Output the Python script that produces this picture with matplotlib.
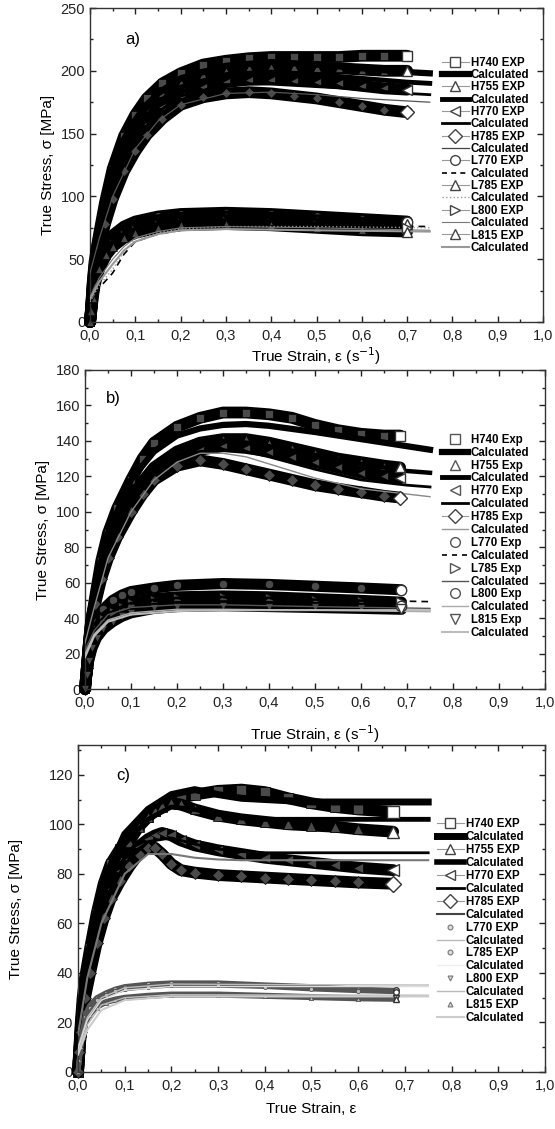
import matplotlib.pyplot as plt
from matplotlib.lines import Line2D
from matplotlib.ticker import MultipleLocator, FuncFormatter

plt.rcParams['font.family'] = ['Liberation Sans', 'DejaVu Sans']

# ---------------- panel a) ----------------
a_hx = [0, 0.003, 0.006, 0.01, 0.02, 0.033, 0.05, 0.075, 0.1, 0.125, 0.16, 0.2,
        0.25, 0.3, 0.35, 0.4, 0.45, 0.5, 0.55, 0.6, 0.65, 0.7]
a_h740 = [0, 15, 32, 48, 70, 95, 122, 148, 165, 178, 190, 198, 205, 208, 210, 211, 211, 211, 211, 212, 212, 212]
a_h755 = [0, 14, 30, 45, 66, 90, 115, 141, 157, 170, 182, 190, 197, 200, 202, 203, 203, 202, 202, 201, 200, 200]
a_h770 = [0, 13, 28, 42, 62, 84, 107, 131, 146, 158, 171, 180, 187, 191, 193, 193, 192, 191, 190, 188, 186, 185]
a_h785 = [0, 12, 26, 40, 58, 78, 98, 120, 136, 149, 162, 173, 179, 182, 183, 182, 180, 178, 175, 172, 169, 167]

a_lx = [0, 0.003, 0.006, 0.01, 0.02, 0.035, 0.05, 0.075, 0.1, 0.15, 0.2, 0.3, 0.4, 0.5, 0.6, 0.7]
a_l770 = [0, 12, 25, 36, 50, 62, 69, 76, 80, 84, 86, 87, 86, 84, 82, 80]
a_l785 = [0, 11, 23, 34, 48, 59, 66, 73, 77, 81, 83, 84, 83, 81, 79, 78]
a_l800 = [0, 10, 21, 31, 45, 56, 63, 70, 74, 78, 80, 81, 80, 78, 76, 75]
a_l815 = [0, 9, 19, 29, 42, 53, 60, 67, 71, 75, 77, 78, 77, 75, 73, 72]

a_cx = [0, 0.02, 0.05, 0.1, 0.15, 0.2, 0.3, 0.4, 0.5, 0.6, 0.7, 0.75]
a_c_h740 = [45, 78, 118, 160, 182, 194, 204, 207, 205, 202, 199, 198]
a_c_h755 = [43, 74, 112, 152, 175, 187, 197, 199, 197, 194, 191, 190]
a_c_h770 = [41, 70, 106, 145, 167, 180, 189, 190, 188, 185, 182, 181]
a_c_h785 = [39, 66, 100, 138, 160, 173, 182, 183, 181, 178, 176, 175]

a_clx = [0, 0.02, 0.05, 0.075, 0.1, 0.15, 0.2, 0.3, 0.5, 0.75]
a_c_l770 = [15, 27, 39, 54, 64, 70, 73, 76, 77, 76]
a_c_l785 = [16, 29, 42, 56, 66, 71, 74, 76, 76, 75]
a_c_l800 = [20, 35, 50, 60, 67, 72, 75, 76, 75, 73]
a_c_l815 = [18, 32, 46, 57, 64, 70, 73, 74, 73, 72]

# ---------------- panel b) ----------------
b_hx = [0, 0.004, 0.008, 0.012, 0.022, 0.035, 0.05, 0.07, 0.1, 0.125, 0.15, 0.2,
        0.25, 0.3, 0.35, 0.4, 0.45, 0.5, 0.55, 0.6, 0.65, 0.685]
b_h740 = [0, 12, 25, 36, 52, 72, 88, 102, 118, 130, 139, 148, 153, 156, 156, 155, 153, 149, 146, 144, 143, 143]
b_h755 = [0, 12, 24, 35, 50, 66, 79, 92, 107, 117, 125, 134, 139, 141, 141, 139, 136, 133, 130, 128, 126, 125]
b_h770 = [0, 12, 24, 34, 49, 64, 77, 89, 103, 113, 121, 130, 135, 137, 136, 134, 131, 128, 125, 122, 120, 119]
b_h785 = [0, 12, 24, 34, 48, 62, 74, 86, 100, 110, 118, 126, 129, 127, 124, 121, 118, 115, 113, 111, 109, 108]

b_lx = [0, 0.004, 0.008, 0.015, 0.025, 0.04, 0.06, 0.08, 0.1, 0.15, 0.2, 0.3, 0.4, 0.5, 0.6, 0.688]
b_l770 = [0, 10, 20, 30, 38, 45, 50, 53, 55, 57, 58.5, 59.5, 59, 58, 57, 56]
b_l785 = [0, 9, 18, 27, 34, 40, 44, 47, 49, 51, 52, 52.5, 52, 51, 50, 49]
b_l800 = [0, 9, 17, 25, 31, 37, 41, 44, 46, 48, 49, 49.5, 49, 48, 47.5, 47]
b_l815 = [0, 8, 16, 23, 29, 34, 38, 41, 43, 45.5, 46.5, 47, 46.5, 46, 45.5, 45]

b_cx = [0, 0.02, 0.05, 0.1, 0.15, 0.2, 0.25, 0.3, 0.35, 0.4, 0.5, 0.6, 0.7, 0.75]
b_c_h740 = [30, 55, 88, 118, 134, 143, 147, 149, 149.5, 148.5, 145, 141, 137, 135]
b_c_h755 = [28, 50, 80, 108, 126, 135, 139, 140, 139, 137, 132, 127, 123, 122]
b_c_h770 = [27, 48, 77, 104, 121, 130, 134, 135, 134, 131, 124, 118, 115, 114]
b_c_h785 = [26, 46, 74, 100, 118, 128, 133, 133, 131, 127, 119, 113, 110, 108.5]

b_clx = [0, 0.02, 0.05, 0.1, 0.2, 0.3, 0.5, 0.75]
b_c_l770 = [20, 32, 42, 48, 51, 51.5, 50.5, 49.3]
b_c_l785 = [22, 33, 42, 46, 47.5, 47.5, 46.5, 45.5]
b_c_l800 = [20, 31, 39, 43, 45, 45, 44.5, 43.6]
b_c_l815 = [18, 30, 38, 42, 44, 44.5, 44.5, 44.5]

# ---------------- panel c) ----------------
c_hx = [0, 0.003, 0.006, 0.01, 0.015, 0.026, 0.04, 0.055, 0.07, 0.09, 0.11, 0.13, 0.15,
        0.165, 0.18, 0.2, 0.22, 0.25, 0.3, 0.35, 0.4, 0.45, 0.5, 0.55, 0.6, 0.675]
c_h740 = [0, 10, 20, 30, 38, 50, 64, 76, 84, 90, 95, 99.5, 103, 105.5, 107, 109, 110.5, 112,
          113.5, 114, 113, 110.5, 108.5, 107, 106, 105]
c_h755 = [0, 9, 18, 27, 35, 46, 58, 70, 78, 86, 93, 99, 103, 105.5, 107.5, 108.5, 108, 106,
          103.5, 102, 101, 100, 99.5, 99, 98, 97]
c_h770 = [0, 8, 16, 24, 31, 42, 55, 66, 74, 81, 86, 91, 94, 95.5, 96.5, 95.5, 93.5, 91.5,
          89.5, 88, 86.5, 85.5, 84.5, 83.5, 82.5, 81.5]
c_h785 = [0, 8, 16, 23, 30, 40, 52, 62, 70, 77, 83, 88, 90.5, 90.5, 88, 84, 81.5, 80.5,
          79.5, 79, 78.5, 78, 77.5, 77, 76.5, 76]

c_lx = [0, 0.003, 0.006, 0.01, 0.015, 0.025, 0.04, 0.06, 0.08, 0.1, 0.15, 0.2, 0.3, 0.4, 0.5, 0.6, 0.68]
c_l770 = [0, 6, 12, 18, 23, 27, 30, 32, 33.5, 34.5, 35.5, 36, 36, 35.2, 34.5, 33.5, 33]
c_l785 = [0, 6, 12, 17, 22, 26, 29, 31, 32.5, 33.5, 34.5, 35, 35, 34.5, 33.5, 32.8, 32.4]
c_l800 = [0, 5, 10, 15, 20, 24, 27, 28.5, 29.5, 30.2, 31, 31.5, 31.5, 31, 30.5, 30, 29.7]
c_l815 = [0, 5, 10, 14, 19, 23, 26, 28, 29, 29.8, 30.5, 31, 31, 30.5, 30, 29.5, 29.3]

c_cx = [0, 0.02, 0.05, 0.1, 0.15, 0.2, 0.25, 0.3, 0.35, 0.4, 0.5, 0.6, 0.75]
c_c_h740 = [20, 45, 75, 96, 106, 112, 114, 112, 110.5, 110, 109, 109, 109]
c_c_h755 = [18, 42, 70, 92, 102, 107, 106, 104, 102.5, 102, 102, 102, 102]
c_c_h770 = [16, 40, 64, 84, 93, 94.5, 92, 90, 89, 88.5, 88.5, 88.5, 88.5]
c_c_h785 = [15, 38, 60, 80, 88, 88, 86.5, 85.8, 85.5, 85.5, 85.5, 85.5, 85.5]

c_clx = [0, 0.02, 0.05, 0.1, 0.2, 0.4, 0.75]
c_c_l770 = [10, 22, 30, 34, 35.5, 35.3, 35.1]
c_c_l785 = [9, 21, 29, 33, 34.5, 34.5, 34.5]
c_c_l800 = [8, 19, 27, 30, 31.2, 31.1, 31]
c_c_l815 = [7, 17, 25, 29, 30.5, 30.5, 30.5]

a_labels = ['H740 EXP', 'H755 EXP', 'H770 EXP', 'H785 EXP', 'L770 EXP', 'L785 EXP', 'L800 EXP', 'L815 EXP']
b_labels = ['H740 Exp', 'H755 Exp', 'H770 Exp', 'H785 Exp', 'L770 Exp', 'L785 Exp', 'L800 Exp', 'L815 Exp']
c_labels = a_labels

fig = plt.figure(figsize=(5.55, 11.29), dpi=100)
ax_a = fig.add_axes([0.1622, 0.7148, 0.8162, 0.2781])
ax_b = fig.add_axes([0.1532, 0.3897, 0.8288, 0.2826])
ax_c = fig.add_axes([0.1405, 0.0505, 0.8414, 0.2896])


def exp_band(ax, x, y, marker, lw=8.5, ms=5.5, band='black', face='#4a4a4a', edge='black', end_ms=7.5):
    ax.plot(x, y, color=band, lw=lw, solid_capstyle='round', solid_joinstyle='round',
            marker=marker, ms=ms, mfc=face, mec=edge, mew=0.5, clip_on=False, zorder=2)
    ax.plot(x[-1:], y[-1:], ls='none', marker=marker, ms=end_ms, mfc='white',
            mec='#333333', mew=1.0, zorder=5)


def calc_line(ax, x, y, **kw):
    ax.plot(x, y, zorder=3, **kw)


def style(ax, ymax, major, minor, tag, tag_xy, xlab, xlab_y, ylab_x):
    ax.set_xlim(0, 1.0)
    ax.set_ylim(0, ymax)
    ax.xaxis.set_major_locator(MultipleLocator(0.1))
    ax.xaxis.set_minor_locator(MultipleLocator(0.05))
    ax.yaxis.set_major_locator(MultipleLocator(major))
    ax.yaxis.set_minor_locator(MultipleLocator(minor))
    ax.xaxis.set_major_formatter(FuncFormatter(lambda v, p: f'{v:.1f}'.replace('.', ',')))
    ax.tick_params(which='both', direction='in', top=True, right=True, labelsize=10.5,
                   colors='#222222', width=1)
    ax.tick_params(which='major', length=4)
    ax.tick_params(which='minor', length=2)
    ax.tick_params(axis='x', pad=5)
    for s in ax.spines.values():
        s.set_linewidth(1.0)
        s.set_color('#333333')
    ax.set_xlabel(xlab, fontsize=11)
    ax.set_ylabel('True Stress, σ [MPa]', fontsize=11)
    ax.xaxis.set_label_coords(0.5, xlab_y)
    ax.yaxis.set_label_coords(ylab_x, 0.5)
    ax.text(tag_xy[0], tag_xy[1], tag, transform=ax.transAxes, fontsize=12, va='center', ha='left')


def add_legend(ax, labels, exp_styles, calc_styles, anchor, spacing):
    handles, texts = [], []
    for lab, es, cs in zip(labels, exp_styles, calc_styles):
        handles.append(Line2D([], [], **es))
        texts.append(lab)
        handles.append(Line2D([], [], **cs))
        texts.append('Calculated')
    ax.legend(handles, texts, loc='upper left', bbox_to_anchor=anchor, frameon=False,
              borderpad=0, borderaxespad=0, handlelength=2.3, handletextpad=0.2,
              labelspacing=spacing, prop={'weight': 'bold', 'size': 8.3})


# ---------- draw a) ----------
for y, m in [(a_h740, 's'), (a_h755, '^'), (a_h770, '<'), (a_h785, 'D')]:
    exp_band(ax_a, a_hx, y, m)
for y, m in [(a_l770, 'o'), (a_l785, '^'), (a_l800, '>'), (a_l815, '^')]:
    exp_band(ax_a, a_lx, y, m)
calc_line(ax_a, a_cx, a_c_h740, color='black', lw=4.5)
calc_line(ax_a, a_cx, a_c_h755, color='black', lw=3.5)
calc_line(ax_a, a_cx, a_c_h770, color='black', lw=2)
calc_line(ax_a, a_cx, a_c_h785, color='#555555', lw=0.9)
calc_line(ax_a, a_clx, a_c_l770, color='black', lw=1.2, ls=(0, (4, 3)))
calc_line(ax_a, a_clx, a_c_l785, color='#999999', lw=1, ls=':')
calc_line(ax_a, a_clx, a_c_l800, color='#777777', lw=0.8)
calc_line(ax_a, a_clx, a_c_l815, color='#999999', lw=1.5)

style(ax_a, 250, 50, 25, 'a)', (0.077, 0.90), 'True Strain, ε (s$^{-1}$)', -0.073, -0.077)

exp_h = dict(color='#999999', lw=0.8, mfc='white', mec='#444444', mew=1, ms=7)
add_legend(ax_a, a_labels,
           [dict(marker=m, **exp_h) for m in ['s', '^', '<', 'D', 'o', '^', '>', '^']],
           [dict(color='black', lw=4.5), dict(color='black', lw=3.5), dict(color='black', lw=2),
            dict(color='#444444', lw=0.9), dict(color='black', lw=1.2, ls=(0, (3, 2.5))),
            dict(color='#999999', lw=1, ls=':'), dict(color='#777777', lw=0.8),
            dict(color='#999999', lw=1.5)],
           (0.777, 0.845), 0.03)

# ---------- draw b) ----------
for y, m in [(b_h740, 's'), (b_h755, '^'), (b_h770, '<'), (b_h785, 'D')]:
    exp_band(ax_b, b_hx, y, m, lw=8.5, ms=6)
for y, m in [(b_l770, 'o'), (b_l785, '>'), (b_l800, 'o'), (b_l815, 'v')]:
    exp_band(ax_b, b_lx, y, m, lw=8, ms=6)
calc_line(ax_b, b_cx, b_c_h740, color='black', lw=4.5)
calc_line(ax_b, b_cx, b_c_h755, color='black', lw=3.2)
calc_line(ax_b, b_cx, b_c_h770, color='black', lw=2)
calc_line(ax_b, b_cx, b_c_h785, color='#888888', lw=1)
calc_line(ax_b, b_clx, b_c_l770, color='black', lw=1.2, ls=(0, (4, 3)))
calc_line(ax_b, b_clx, b_c_l785, color='#555555', lw=1)
calc_line(ax_b, b_clx, b_c_l800, color='#aaaaaa', lw=1)
calc_line(ax_b, b_clx, b_c_l815, color='#bbbbbb', lw=1.5)

style(ax_b, 180, 20, 10, 'b)', (0.046, 0.912), 'True Strain, ε (s$^{-1}$)', -0.107, -0.077)

exp_b = dict(ls='none', mfc='white', mec='#555555', mew=1, ms=7)
b_exp_styles = [dict(marker=m, **exp_b) for m in ['s', '^', '<', 'D', 'o', '>', 'o', 'v']]
b_exp_styles[3] = dict(marker='D', color='#999999', lw=0.8, mfc='white', mec='#444444', mew=1, ms=7)
add_legend(ax_b, b_labels, b_exp_styles,
           [dict(color='black', lw=4.5), dict(color='black', lw=3.5), dict(color='black', lw=2),
            dict(color='#999999', lw=1), dict(color='black', lw=1.2, ls=(0, (3, 3))),
            dict(color='#555555', lw=1), dict(color='#aaaaaa', lw=1), dict(color='#bbbbbb', lw=1.5)],
           (0.776, 0.800), 0.077)

# ---------- draw c) ----------
for y, m in [(c_h740, 's'), (c_h755, '^'), (c_h770, '<'), (c_h785, 'D')]:
    exp_band(ax_c, c_hx, y, m, lw=8.5, ms=6.5, end_ms=8)
for y, m in [(c_l770, 'o'), (c_l785, 'o'), (c_l800, 'v'), (c_l815, '^')]:
    exp_band(ax_c, c_lx, y, m, lw=3.5, ms=3, band='#555555', face='#bbbbbb', edge='#444444', end_ms=4)
calc_line(ax_c, c_cx, c_c_h740, color='black', lw=5)
calc_line(ax_c, c_cx, c_c_h755, color='black', lw=3.5)
calc_line(ax_c, c_cx, c_c_h770, color='black', lw=2)
calc_line(ax_c, c_cx, c_c_h785, color='#777777', lw=1.5)
calc_line(ax_c, c_clx, c_c_l770, color='#bbbbbb', lw=1)
calc_line(ax_c, c_clx, c_c_l785, color='#dddddd', lw=1)
calc_line(ax_c, c_clx, c_c_l800, color='#bbbbbb', lw=1)
calc_line(ax_c, c_clx, c_c_l815, color='#cccccc', lw=1.5)

style(ax_c, 132, 20, 10, 'c)', (0.081, 0.908), 'True Strain, ε', -0.092, -0.117)

c_exp_styles = [dict(marker=m, **exp_h) for m in ['s', '^', '<', 'D']]
c_exp_styles += [dict(marker=m, ls='none', mfc='#dddddd', mec='#777777', mew=0.8, ms=3.5)
                 for m in ['o', 'o', 'v', '^']]
add_legend(ax_c, c_labels, c_exp_styles,
           [dict(color='black', lw=5), dict(color='black', lw=4), dict(color='black', lw=2),
            dict(color='#444444', lw=1.5), dict(color='#bbbbbb', lw=1), dict(color='#eeeeee', lw=1),
            dict(color='#bbbbbb', lw=1), dict(color='#cccccc', lw=1.5)],
           (0.769, 0.776), 0.08)

fig.savefig('out.png', dpi=100)
